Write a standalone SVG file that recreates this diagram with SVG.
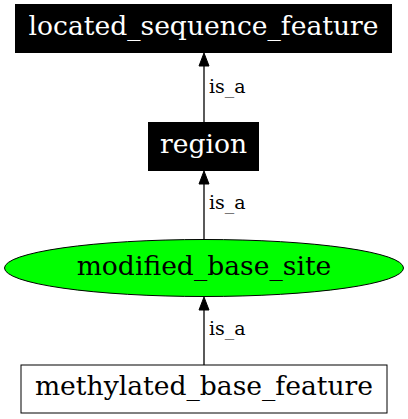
<svg xmlns="http://www.w3.org/2000/svg" width="408" height="419" viewBox="0 0 408 419">
<style>
.lbl{font-family:"DejaVu Serif",serif;font-size:26.6px;text-anchor:middle}
.elbl{font-family:"DejaVu Serif",serif;font-size:19px}
.edge{stroke:#000;stroke-width:1.3;fill:none}
.ah{fill:#000;stroke:#000;stroke-width:1}
</style>
<rect width="408" height="419" fill="#fff"/>
<g id="connectors">
<g id="e1"><line class="edge" x1="204" y1="122" x2="204" y2="66"/><polygon class="ah" points="204,53 199,66 209,66"/><text class="elbl" x="209" y="93">is_a</text></g>
<g id="e2"><line class="edge" x1="204" y1="239" x2="204" y2="184"/><polygon class="ah" points="204,171 199,184 209,184"/><text class="elbl" x="209" y="209">is_a</text></g>
<g id="e3"><line class="edge" x1="204" y1="365" x2="204" y2="310"/><polygon class="ah" points="204,297 199,310 209,310"/><text class="elbl" x="209" y="335">is_a</text></g>
</g>
<g id="located_sequence_feature"><rect x="15" y="4" width="377" height="49" fill="#000"/><text class="lbl" x="203.5" y="35" fill="#fff">located_sequence_feature</text></g>
<g id="region"><rect x="148" y="122" width="111" height="49" fill="#000"/><text class="lbl" x="203.5" y="153" fill="#fff">region</text></g>
<g id="modified_base_site"><ellipse cx="204" cy="268" rx="199.5" ry="28.5" fill="#00ff00" stroke="#000" stroke-width="1"/><text class="lbl" x="204" y="275">modified_base_site</text></g>
<g id="methylated_base_feature"><rect x="21" y="365" width="366" height="48" fill="#fff" stroke="#000" stroke-width="1"/><text class="lbl" x="204" y="395">methylated_base_feature</text></g>
</svg>
